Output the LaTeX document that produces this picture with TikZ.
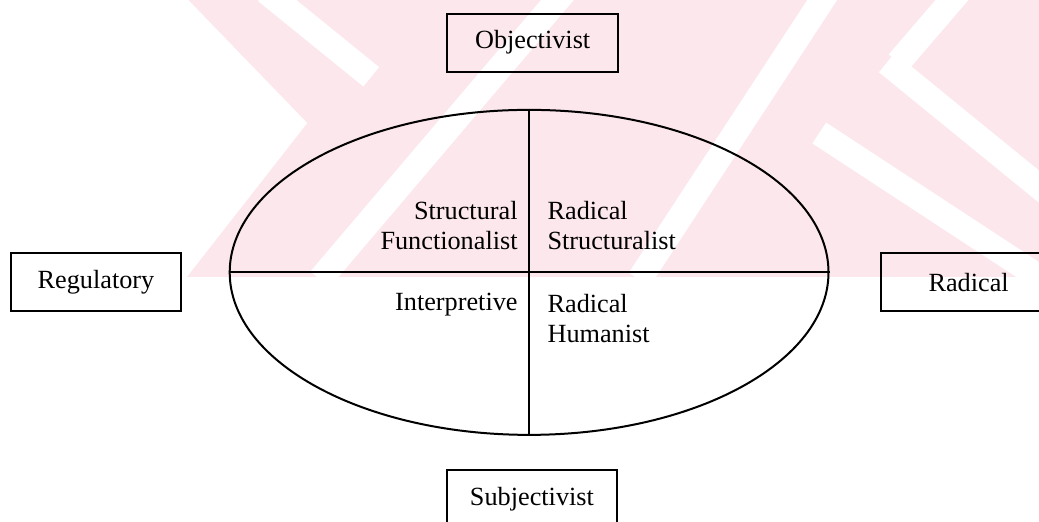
\documentclass[tikz,border=0pt]{standalone}
\usepackage{fontspec}
\setmainfont{Liberation Serif}
\usetikzlibrary{positioning,shapes.geometric}
\definecolor{bandpink}{RGB}{252,231,236}

\begin{document}
\begin{tikzpicture}[
    pole/.style={draw, line width=0.8pt, minimum width=2.4cm, minimum height=0.82cm, inner sep=0pt},
    quad/.style={inner sep=0pt},
    every node/.style={font=\fontsize{10.5}{12}\selectfont}
]
\def\a{8.42cm}
\def\b{4.57cm}
\useasboundingbox (-7.44,-3.51) rectangle (7.17,3.83);

% pale bands behind the upper half
\begin{scope}
\clip (-4.98,-0.06) rectangle (7.17,3.83);
\fill[bandpink] (-4.98,-0.06) rectangle (7.17,3.83);
\fill[white] (-5.33,3.9) -- (-4.86,3.9) -- (-3.12,2.10) -- (-4.84,-0.1) -- (-5.33,-0.1) -- cycle;
\begin{scope}[white, line width=10pt]
\draw (-3.70,3.95) -- (-2.22,2.75);
\draw (-2.94,-0.1) -- (0.50,3.95);
\draw (1.55,-0.1) -- (4.20,3.95);
\draw (4.08,1.96) -- (7.30,-0.15);
\draw (5.03,2.95) -- (7.30,1.10);
\draw (5.19,2.95) -- (6.05,3.95);
\end{scope}
\end{scope}

\node[pole] (obj) at (0.05,3.23) {Objectivist};
\node[pole] (subj) at (0.04,-3.19) {Subjectivist};
\node[pole, minimum width=2.38cm] (reg) at (-6.09,-0.14) {Regulatory};
\node[pole, minimum width=2.45cm] (rad) at (6.18,-0.14) {Radical};

\node[draw, ellipse, line width=0.8pt, minimum width=\a, minimum height=\b, inner sep=0pt] (para) at (0,0) {};
\draw[line width=0.8pt] (para.north) -- (para.south);
\draw[line width=0.8pt] (para.west) -- (para.east);

\node[quad, anchor=east, align=right] (sf) at (-0.155,0.654) {Structural\\Functionalist};
\node[quad, anchor=west, align=left] (rs) at (0.253,0.654) {Radical\\Structuralist};
\node[quad, anchor=base east] (ip) at (-0.155,-0.53) {Interpretive};
\node[quad, anchor=west, align=left] (rh) at (0.253,-0.647) {Radical\\Humanist};
\end{tikzpicture}
\end{document}
